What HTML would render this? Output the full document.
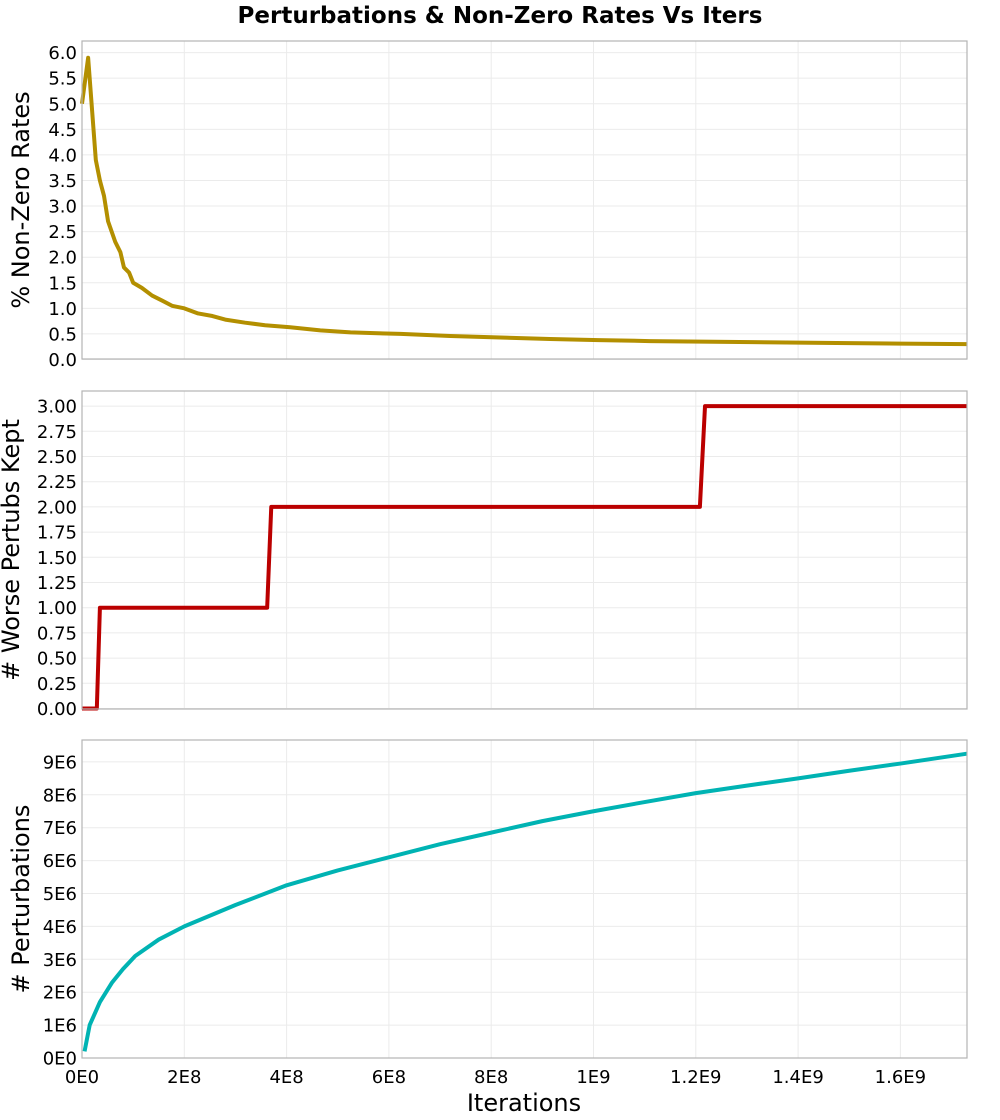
<!DOCTYPE html>
<html><head><meta charset="utf-8"><style>
body{margin:0;background:#fff;}
svg{display:block;font-family:"DejaVu Sans","Liberation Sans",sans-serif;}
</style></head><body>
<svg id="c" width="1000" height="1120"></svg>
<script>
// x values in units of 1e8 iterations
const nzX = [0,0.12,0.27,0.35,0.43,0.51,0.65,0.75,0.82,0.92,1.0,1.17,1.37,1.57,1.76,2.0,2.27,2.55,2.8,3.19,3.58,4.07,4.66,5.25,6.23,7.2,8.18,9.15,10.1,11.1,12.1,13.1,14.0,15.0,16.0,17.3];
const nzY = [5.0,5.9,3.9,3.5,3.2,2.7,2.3,2.1,1.8,1.7,1.5,1.4,1.25,1.15,1.05,1.0,0.9,0.85,0.78,0.72,0.67,0.63,0.57,0.53,0.5,0.46,0.43,0.4,0.38,0.36,0.35,0.34,0.33,0.32,0.31,0.3];
const wX = [0,0.29,0.35,3.62,3.7,12.08,12.18,17.3];
const wY = [0,0,1,1,2,2,3,3];
const pX = [0.05,0.15,0.35,0.59,0.8,1.04,1.5,2,3,4,5,6,7,8,9,10,11,12,13,14,15,16,17.3];
const pY = [0.2,1.0,1.7,2.3,2.7,3.1,3.6,4.0,4.65,5.25,5.7,6.1,6.5,6.85,7.2,7.5,7.78,8.05,8.28,8.5,8.73,8.95,9.25];
const xTicks = [0,2,4,6,8,10,12,14,16];
const xTickLabels = ["0E0","2E8","4E8","6E8","8E8","1E9","1.2E9","1.4E9","1.6E9"];
const t1 = [0,0.5,1,1.5,2,2.5,3,3.5,4,4.5,5,5.5,6];
const t2 = [0,0.25,0.5,0.75,1,1.25,1.5,1.75,2,2.25,2.5,2.75,3];
const t3 = [0,1,2,3,4,5,6,7,8,9];

const NS="http://www.w3.org/2000/svg", svg=document.getElementById('c');
const L=82,R=967;
const xs=v=>L+v*51.15;
function el(t,a,p){const e=document.createElementNS(NS,t);for(const k in a)e.setAttribute(k,a[k]);(p||svg).appendChild(e);return e;}
function txt(s,a,name){const e=el('text',a);e.textContent=s;


return e;}
function panel(name,top,bot,y0px,yPerUnit,ticks,fmt,xs_,ys_,color,title,tx){
  const ys=v=>y0px-v*yPerUnit;
  const g=el('g',{});
  
  
  xTicks.forEach(t=>{if(t>0)el('line',{x1:xs(t),x2:xs(t),y1:top,y2:bot,stroke:'#ebebeb','stroke-width':1},g);});
  ticks.forEach(t=>{el('line',{x1:L,x2:R,y1:ys(t),y2:ys(t),stroke:'#ebebeb','stroke-width':1},g);
    txt(fmt(t),{x:L-5,y:ys(t)+6.5,'text-anchor':'end','font-size':18,fill:'#000'},name+'-y-tick');});
  const pts=xs_.map((x,i)=>xs(x)+','+ys(ys_[i])).join(' ');
  const pl=el('polyline',{points:pts,fill:'none',stroke:color,'stroke-width':4,'stroke-linejoin':'round'},g);
  
  
  el('rect',{x:L,y:top,width:R-L,height:bot-top,fill:'none',stroke:'#b4b4b4','stroke-width':1.2},g);
  const cy=(top+bot)/2;
  txt(title,{x:0,y:0,transform:`translate(${tx},${cy}) rotate(-90)`,'text-anchor':'middle','font-size':24,fill:'#000'},name+'-y-axis-title');
}
txt('Perturbations & Non-Zero Rates Vs Iters',{x:500,y:23,'text-anchor':'middle','font-size':23,'font-weight':'bold',fill:'#000'},'chart-title');
panel('non-zero',41,359,359.5,51.15,t1,v=>v.toFixed(1),nzX,nzY,'#b38f00','% Non-Zero Rates',29);
panel('worse-kept',391,709,708.5,100.8,t2,v=>v.toFixed(2),wX,wY,'#bb0000','# Worse Pertubs Kept',19);
panel('perturbations',740,1058,1058,32.9,t3,v=>v+'E'+(v?6:0),pX,pY,'#00b3b3','# Perturbations',29);
xTicks.forEach((t,i)=>txt(xTickLabels[i],{x:xs(t),y:1083,'text-anchor':'middle','font-size':18,fill:'#000'},'x-tick'));
txt('Iterations',{x:524,y:1111,'text-anchor':'middle','font-size':24,fill:'#000'},'x-axis-title');
</script>
</body></html>
